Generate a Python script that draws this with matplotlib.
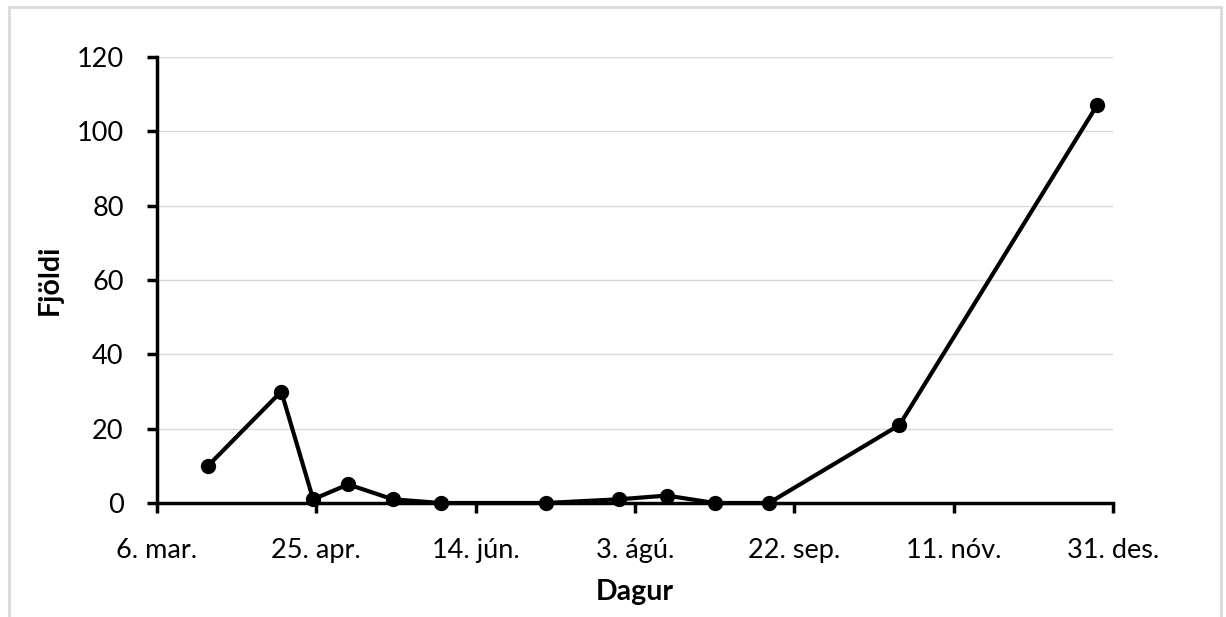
import datetime as dt

import matplotlib
matplotlib.use("Agg")
import matplotlib.pyplot as plt
from matplotlib.patches import Rectangle

# Fjöldi eftir dagsetningu
dagar = ["2019-03-22", "2019-04-14", "2019-04-24", "2019-05-05", "2019-05-19",
         "2019-06-03", "2019-07-06", "2019-07-29", "2019-08-13", "2019-08-28",
         "2019-09-14", "2019-10-25", "2019-12-26"]
fjoldi = [10, 30, 1, 5, 1, 0, 0, 1, 2, 0, 0, 21, 107]

x_ticks = ["2019-03-06", "2019-04-25", "2019-06-14", "2019-08-03",
           "2019-09-22", "2019-11-11", "2019-12-31"]
x_tick_labels = ["6. mar.", "25. apr.", "14. jún.", "3. ágú.",
                 "22. sep.", "11. nóv.", "31. des."]
y_ticks = [0, 20, 40, 60, 80, 100, 120]

plt.rcParams["font.family"] = ["Lato", "DejaVu Sans"]

to_date = lambda s: dt.datetime.strptime(s, "%Y-%m-%d")
x = [to_date(d) for d in dagar]
xt = [to_date(d) for d in x_ticks]

fig = plt.figure(figsize=(12.26, 6.17), dpi=100)
# grár rammi utan um myndina
fig.patches.append(Rectangle((9 / 1226, -0.1), 1212 / 1226, 1.1 - 7 / 617,
                             transform=fig.transFigure, fill=False,
                             edgecolor="#d9d9d9", linewidth=2))
ax = fig.add_axes([157 / 1226, 1 - 503 / 617, 956 / 1226, 446 / 617])

ax.plot(x, fjoldi, color="black", linewidth=3, marker="o", markersize=10,
        clip_on=False, zorder=3)

ax.set_xlim(xt[0], xt[-1])
ax.set_ylim(0, 120)
ax.set_xticks(xt)
ax.set_xticklabels(x_tick_labels)
ax.set_yticks(y_ticks)

ax.grid(axis="y", color="#d9d9d9", linewidth=1)
ax.set_axisbelow(True)
for side in ["top", "right"]:
    ax.spines[side].set_visible(False)
for side in ["left", "bottom"]:
    ax.spines[side].set_linewidth(2.5)
ax.tick_params(axis="both", direction="out", length=7, width=2.5,
               labelsize=19.5, colors="black")
ax.tick_params(axis="x", pad=18)
ax.tick_params(axis="y", pad=17)

ax.set_xlabel("Dagur", fontsize=20.5, fontweight="bold", labelpad=12)
ax.set_ylabel("Fjöldi", fontsize=20.5, fontweight="bold", labelpad=10)

fig.savefig("out.png", dpi=100, facecolor="white")
